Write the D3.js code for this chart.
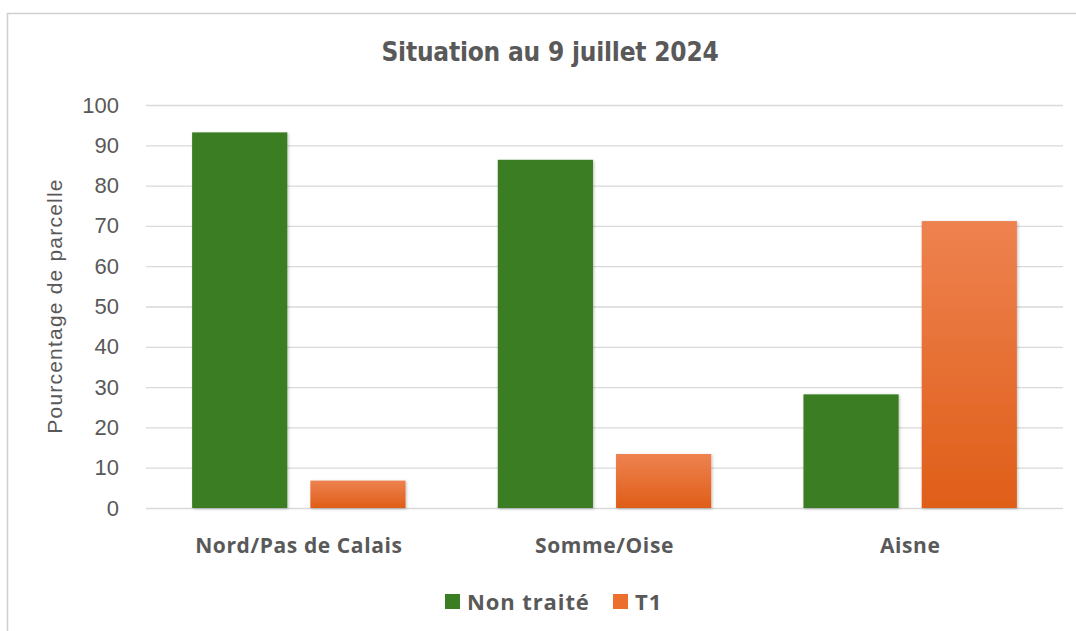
<!DOCTYPE html>
<html>
<head>
<meta charset="utf-8">
<script src="https://cdn.jsdelivr.net/npm/d3@7"></script>
<style>
  body { margin: 0; background: #fff; overflow: hidden; }
  svg { display: block; }
</style>
</head>
<body>
<div id="chart"></div>
<script>
// data
const categories = ['Nord/Pas de Calais', 'Somme/Oise', 'Aisne'];
const seriesNames = ['Non traité', 'T1'];
const nonTraite = [93.2, 86.4, 28.2];
const t1 = [6.8, 13.4, 71.2];
const yTicks = [0, 10, 20, 30, 40, 50, 60, 70, 80, 90, 100];

const width = 1076, height = 631;
const margin = {left: 146, right: 13, top: 105, bottom: 123};
const textColor = '#595959';
const gridColor = '#d9d9d9';

let svg = d3.select('#chart').append('svg')
    .attr('width', width)
    .attr('height', height);

let defs = svg.append('defs');

// orange bars get a light-to-dark vertical gradient
let grad = defs.append('linearGradient')
    .attr('id', 'orangeGrad')
    .attr('x1', 0).attr('y1', 0).attr('x2', 0).attr('y2', 1);
grad.append('stop').attr('offset', '0%').attr('stop-color', '#ee8250');
grad.append('stop').attr('offset', '100%').attr('stop-color', '#df5e18');

let shadow = defs.append('filter').attr('id', 'shadow')
    .attr('x', '-10%').attr('y', '-10%').attr('width', '130%').attr('height', '130%');
shadow.append('feDropShadow')
    .attr('dx', 1).attr('dy', 1).attr('stdDeviation', 1.5)
    .attr('flood-color', '#000').attr('flood-opacity', 0.25);

// chart area frame (only top and left edges are visible)
svg.append('rect')
    .attr('x', 7.5).attr('y', 13.5)
    .attr('width', 1200).attr('height', 800)
    .attr('fill', 'none')
    .attr('stroke', '#d0d0d0')
    .attr('stroke-width', 1.5);

let x0 = d3.scaleBand()
    .domain(categories)
    .range([margin.left, width - margin.right]);

let x1 = d3.scaleBand()
    .domain(seriesNames)
    .range([0, x0.bandwidth()])
    .paddingInner(0.195)
    .paddingOuter(0.39);

let y = d3.scaleLinear()
    .domain([0, 100])
    .range([height - margin.bottom, margin.top]);

// gridlines
let yAxis = d3.axisLeft(y)
    .tickValues(yTicks)
    .tickSize(-(width - margin.left - margin.right))
    .tickPadding(27);

let gy = svg.append('g')
    .attr('transform', 'translate(' + margin.left + ',0)')
    .call(yAxis);
gy.select('.domain').remove();
gy.selectAll('.tick line')
    .attr('stroke', gridColor)
    .attr('stroke-width', 1.3);
gy.selectAll('.tick text')
    .attr('fill', textColor)
    .style('font-family', '"Liberation Sans", Arial, sans-serif')
    .style('font-size', '22px');

// bars
let rows = categories.map((c, i) => ({cat: c, values: [
  {name: seriesNames[0], value: nonTraite[i]},
  {name: seriesNames[1], value: t1[i]}
]}));

let groups = svg.selectAll('g.cat')
    .data(rows)
    .enter()
    .append('g')
    .attr('class', 'cat')
    .attr('transform', d => 'translate(' + x0(d.cat) + ',0)');

groups.selectAll('rect')
    .data(d => d.values)
    .enter()
    .append('rect')
    .attr('x', d => x1(d.name))
    .attr('y', d => y(d.value))
    .attr('width', x1.bandwidth())
    .attr('height', d => y(0) - y(d.value))
    .attr('fill', d => d.name === seriesNames[0] ? '#3a7d22' : 'url(#orangeGrad)')
    .attr('filter', 'url(#shadow)');

// category labels
svg.selectAll('text.cat-label')
    .data(categories)
    .enter()
    .append('text')
    .attr('class', 'cat-label')
    .attr('x', d => x0(d) + x0.bandwidth() / 2)
    .attr('y', y(0) + 45)
    .attr('text-anchor', 'middle')
    .attr('fill', textColor)
    .style('font-family', '"Open Sans", "Liberation Sans", sans-serif')
    .style('font-weight', 'bold')
    .style('font-size', '21px')
    .style('letter-spacing', '0.6px')
    .text(d => d);

// title
svg.append('text')
    .attr('x', 550)
    .attr('y', 61)
    .attr('text-anchor', 'middle')
    .attr('fill', textColor)
    .style('font-family', '"Liberation Sans Narrow", "DejaVu Sans Condensed", sans-serif')
    .style('font-weight', 'bold')
    .style('font-size', '26px')
    .style('letter-spacing', '-0.2px')
    .text('Situation au 9 juillet 2024');

// y axis title
svg.append('text')
    .attr('transform', 'translate(62,306) rotate(-90)')
    .attr('text-anchor', 'middle')
    .attr('fill', textColor)
    .style('font-family', '"Liberation Sans", Arial, sans-serif')
    .style('font-size', '21px')
    .style('letter-spacing', '1.2px')
    .text('Pourcentage de parcelle');

// legend
const legendColors = ['#3a7d22', '#ec6f2e'];
const legendX = [445, 613];
let legend = svg.selectAll('g.legend')
    .data(seriesNames)
    .enter()
    .append('g')
    .attr('class', 'legend')
    .attr('transform', (d, i) => 'translate(' + legendX[i] + ',594)');

legend.append('rect')
    .attr('width', 15).attr('height', 15)
    .attr('fill', (d, i) => legendColors[i]);

legend.append('text')
    .attr('x', 22)
    .attr('y', 16)
    .attr('fill', textColor)
    .style('font-family', '"Open Sans", "Liberation Sans", sans-serif')
    .style('font-weight', 'bold')
    .style('font-size', '22px')
    .style('letter-spacing', '0.9px')
    .text(d => d);
</script>
</body>
</html>
